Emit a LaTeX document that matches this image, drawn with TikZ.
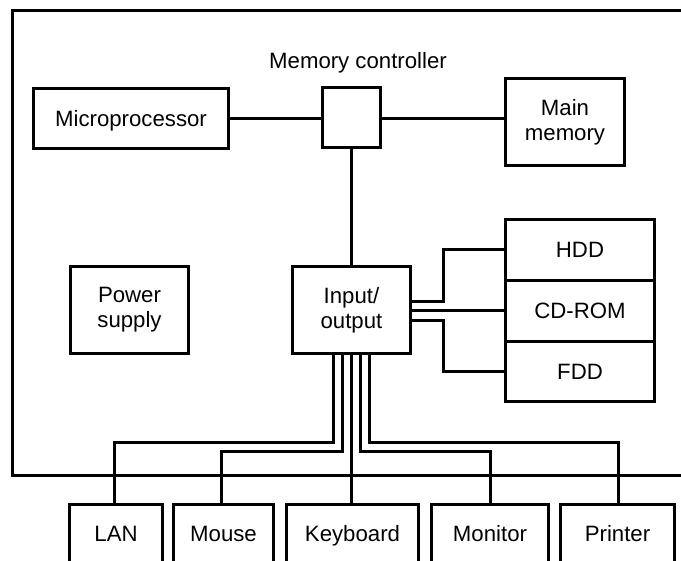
\documentclass[tikz,border=0pt]{standalone}
\usepackage{fontspec}
\setmainfont{Liberation Sans}
\begin{document}
\begin{tikzpicture}[x=1pt,y=-1pt,
  every node/.style={font=\fontsize{22.2}{25}\selectfont, inner sep=0pt, outer sep=0pt, align=center},
  blk/.style={draw, line width=3pt, rectangle, minimum width=#1},
  one/.style={text height=16pt, text depth=0pt},
  wire/.style={draw, line width=3pt}]
\useasboundingbox (0,0) rectangle (681,561);
% outer enclosure
\draw[wire] (682,10.5) -- (12.5,10.5) -- (12.5,475.5) -- (682,475.5);
% internal blocks
\node[blk=195, minimum height=60, one] (mp) at (131,118.5) {Microprocessor};
\node[blk=58, minimum height=60] (mc) at (351.5,117.5) {};
\node[one] (mclab) at (358,60.3) {Memory controller};
\node[blk=119, minimum height=87] (mm) at (565,122) {Main\\memory};
\node[blk=118, minimum height=87] (ps) at (129.5,310) {Power\\supply};
\node[blk=118, minimum height=87] (io) at (351.5,310) {Input/\\output};
\node[blk=149, minimum height=61, one] (hdd) at (580,250) {HDD};
\node[blk=149, minimum height=61, one] (cd) at (580,311) {CD-ROM};
\node[blk=149, minimum height=60, one] (fdd) at (580,371.5) {FDD};
% external devices (open at the bottom, cut by the page edge)
\begin{scope}
\clip (0,0) rectangle (681,561);
\node[blk=93, minimum height=58, one] (lan) at (116,533.5) {LAN};
\node[blk=100, minimum height=58, one] (mouse) at (223.5,533.5) {Mouse};
\node[blk=132, minimum height=58, one] (kb) at (352.5,533.5) {Keyboard};
\node[blk=117, minimum height=58, one] (mon) at (490,533.5) {Monitor};
\node[blk=114, minimum height=58, one] (prn) at (617.5,533.5) {Printer};
\end{scope}
% connector end points
\coordinate (ioh) at ([yshift=8.5pt]io.east);
\coordinate (ioc) at ([yshift=-0.5pt]io.east);
\coordinate (iof) at ([yshift=-10.5pt]io.east);
\coordinate (b1) at ([xshift=-18pt]io.south);
\coordinate (b2) at ([xshift=-9pt]io.south);
\coordinate (b4) at ([xshift=9pt]io.south);
\coordinate (b5) at ([xshift=18pt]io.south);
% memory bus
\draw[wire] (mp.east) -- (mc.west |- mp.east);
\draw[wire] (mc.east |- mp.east) -- (mm.west |- mp.east);
\draw[wire] (mc.south) -- (io.north);
% storage connections
\draw[wire] (ioh) -| (443.5,249.5) -- (hdd.west |- 0,249.5);
\draw[wire] (ioc) -- (ioc -| cd.west);
\draw[wire] (iof) -| (443.5,371.5) -- (fdd.west);
% peripheral connections
\draw[wire] (b1) |- (114.5,442.5) -- (114.5,504.5);
\draw[wire] (b2) |- (221.5,451.5) -- (221.5,504.5);
\draw[wire] (io.south) -- (io.south |- kb.north);
\draw[wire] (b4) |- (490.5,451.5) -- (490.5,504.5);
\draw[wire] (b5) |- (618.5,442.5) -- (618.5,504.5);
\end{tikzpicture}
\end{document}
